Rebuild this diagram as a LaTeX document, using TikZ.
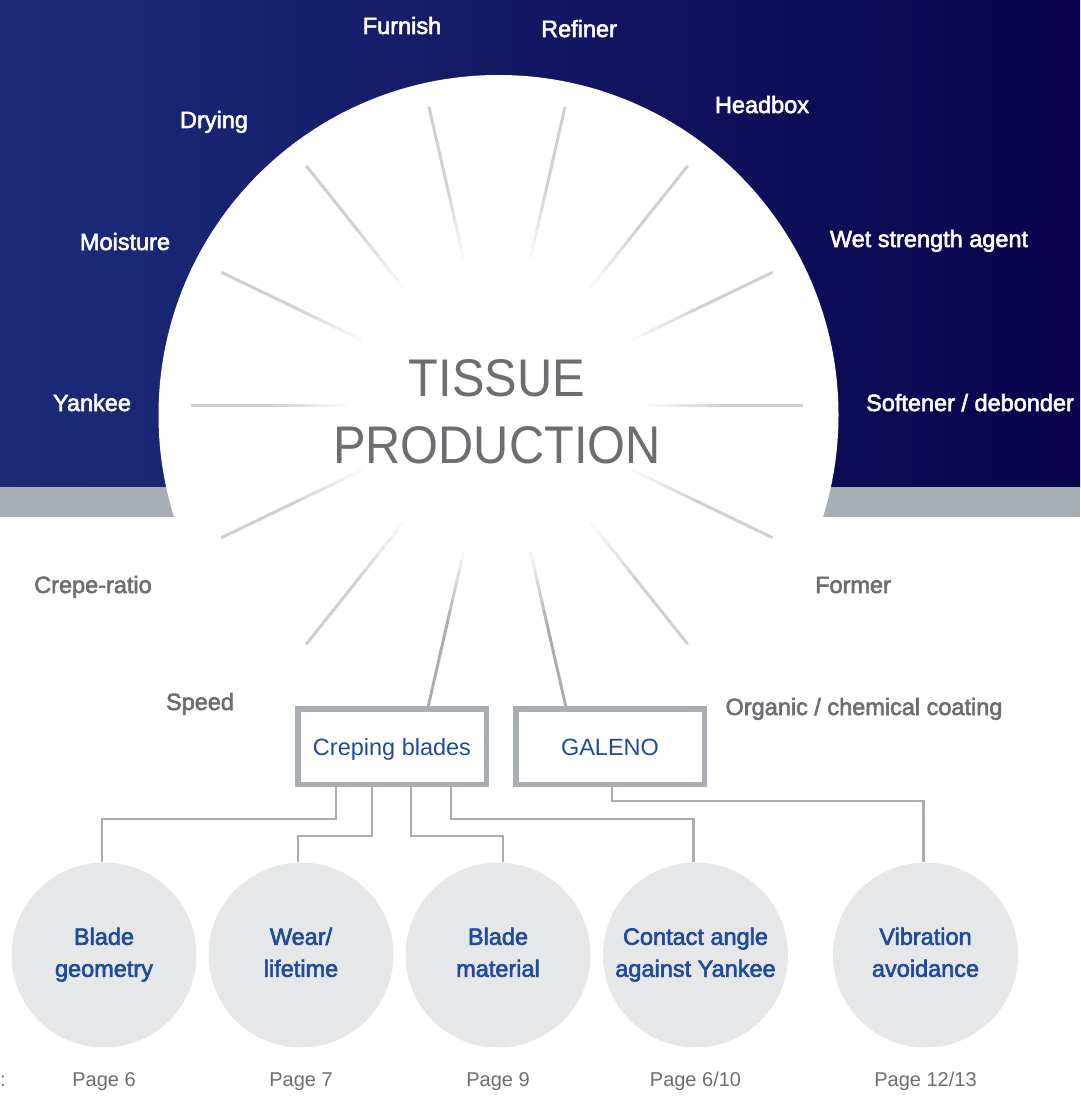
\documentclass[tikz,border=0pt]{standalone}
\usepackage{fontspec}
\setmainfont{Liberation Sans}
\newfontfamily\medfont{Liberation Sans}[FakeBold=2.5]
\newfontfamily\titlefont{Liberation Sans}[FakeStretch=0.92]
\usetikzlibrary{positioning}

\definecolor{bgleft}{RGB}{28,44,122}
\definecolor{bgmid}{RGB}{17,20,104}
\definecolor{bgright}{RGB}{10,2,76}
\definecolor{bandgray}{RGB}{169,174,180}
\definecolor{boxgray}{RGB}{168,174,180}
\definecolor{raylight}{RGB}{208,208,210}
\definecolor{txtgray}{RGB}{109,110,113}
\definecolor{bluetext}{RGB}{31,75,156}
\definecolor{circfill}{RGB}{230,231,232}

\begin{document}
\begin{tikzpicture}[x=1pt, y=-1pt, line width=1pt,
  lab/.style={anchor=base, text=white, font=\medfont\fontsize{23.5}{28}\selectfont},
  labgray/.style={lab, text=txtgray},
  title/.style={anchor=base, text=txtgray, font=\titlefont\fontsize{53}{60}\selectfont},
  box/.style={draw=boxgray, line width=5.5pt, minimum width=188.5pt, minimum height=75.5pt, text height=17pt, text depth=0pt, text=bluetext, font=\fontsize{23.5}{28}\selectfont},
  topic/.style={circle, fill=circfill, minimum size=185pt, inner sep=0pt, align=center, text depth=5.5pt, text=bluetext, font=\medfont\fontsize{23.5}{32}\selectfont},
  page/.style={anchor=base, text=txtgray, font=\fontsize{20}{24}\selectfont},
  conn/.style={draw=boxgray, line width=2.8pt},
  ray/.style={line width=3pt, draw=raylight}]
\useasboundingbox (0,0) rectangle (1080,1102);

% background
\shade[left color=bgleft, middle color=bgmid, right color=bgright] (0,0) rectangle (1080,487);
\fill[bandgray] (0,487) rectangle (1080,517);
\fill[white] (498.5,415) circle[radius=340];

\coordinate (hub) at (497,405);

% rays, fading towards the middle
\foreach \k in {0,1,2,5,6,7,8,9,10,11,12,13} {
  \pgfmathsetmacro\a{\k*180/7}
  \foreach \s [evaluate=\s as \p using \s*12.5] in {1,...,8}
    \draw[ray, draw=raylight!\p!white] ([shift={(\a:140+\s*10)}]hub) -- ([shift={(\a:150+\s*10)}]hub);
  \draw[ray] ([shift={(\a:230)}]hub) -- ([shift={(\a:306)}]hub);
}
\foreach \k in {3,4} {
  \pgfmathsetmacro\a{\k*180/7}
  \foreach \s [evaluate=\s as \p using \s*12.5] in {1,...,8}
    \draw[ray, draw=boxgray!\p!white] ([shift={(\a:140+\s*10)}]hub) -- ([shift={(\a:150+\s*10)}]hub);
  \draw[ray, draw=boxgray] ([shift={(\a:230)}]hub) -- ([shift={(\a:309)}]hub);
}

\node[title] (tissue) at (497,396) {TISSUE};
\node[title] (prod) at (497,463) {PRODUCTION};

% factors
\node[lab] (furnish) at (402,34) {Furnish};
\node[lab] (refiner) at (579,37) {Refiner};
\node[lab] (drying) at (214,128) {Drying};
\node[lab] (headbox) at (762,113) {Headbox};
\node[lab] (moisture) at (125,250) {Moisture};
\node[lab] (wet) at (929,247) {Wet strength agent};
\node[lab] (yankee) at (92,411) {Yankee};
\node[lab] (softener) at (970,411) {Softener / debonder};
\node[labgray] (crepe) at (93,593) {Crepe-ratio};
\node[labgray] (former) at (853,593) {Former};
\node[labgray] (speed) at (200,710) {Speed};
\node[labgray] (coating) at (864,715) {Organic / chemical coating};

% blades
\node[box] (cb) at (392,746.5) {Creping blades};
\node[box] (gal) at (610,746.5) {GALENO};

\node[topic] (t1) at (104,955) {Blade\\geometry};
\node[topic] (t2) at (301,955) {Wear/\\lifetime};
\node[topic] (t3) at (498,955) {Blade\\material};
\node[topic] (t4) at (695.5,955) {Contact angle\\against Yankee};
\node[topic] (t5) at (925.5,955) {Vibration\\avoidance};

\draw[conn] ([xshift=-56]cb.south) -- ++(0,32) -| ([xshift=-2]t1.north);
\draw[conn] ([xshift=-20]cb.south) -- ++(0,49) -| ([xshift=-3]t2.north);
\draw[conn] ([xshift=19]cb.south) -- ++(0,49) -| ([xshift=5]t3.north);
\draw[conn] ([xshift=59]cb.south) -- ++(0,32) -| ([xshift=-2]t4.north);
\draw[conn] ([xshift=2]gal.south) -- ++(0,14) -| ([xshift=-2]t5.north);

\node[page] (p1) at (104,1086) {Page 6};
\node[page] (p2) at (301,1086) {Page 7};
\node[page] (p3) at (498,1086) {Page 9};
\node[page] (p4) at (695.5,1086) {Page 6/10};
\node[page] (p5) at (925.5,1086) {Page 12/13};
\node[page] (colon) at (3,1086) {:};
\end{tikzpicture}
\end{document}
